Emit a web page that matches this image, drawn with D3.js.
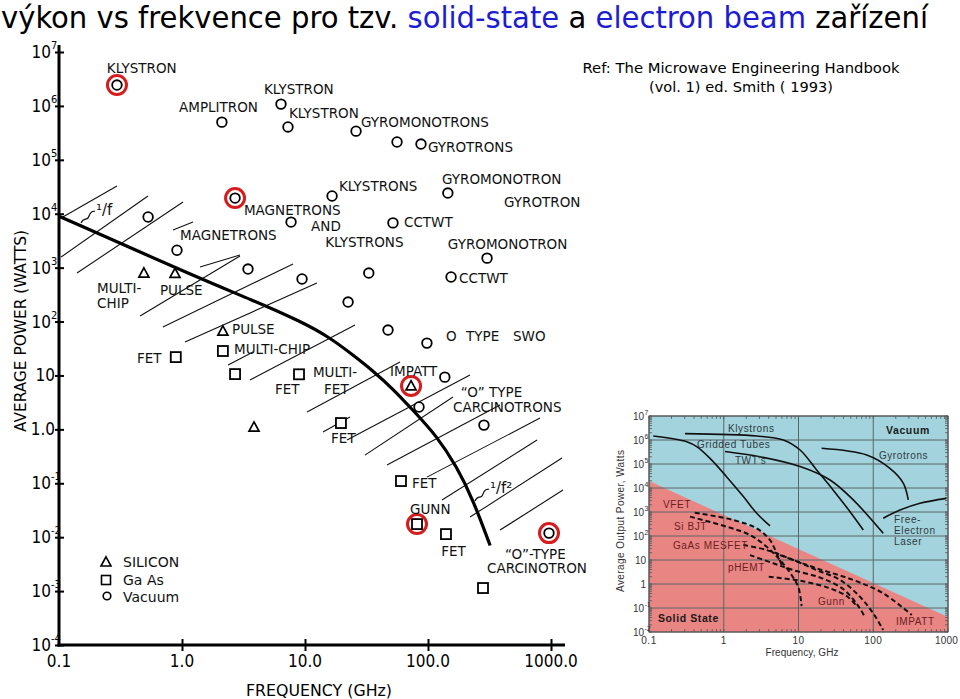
<!DOCTYPE html>
<html><head><meta charset="utf-8">
<script src="https://cdn.jsdelivr.net/npm/d3@7"></script>
<style>
body{margin:0;background:#fff;}
svg{display:block;}
</style></head><body>
<svg id="c" width="960" height="699"></svg>
<script>
// ================= DATA =================
const titleSegments = ["výkon vs frekvence pro tzv. ", "solid-state", " a ", "electron beam", " zařízení"];
const titleBlue = [false, true, false, true, false];
const refLines = ["Ref: The Microwave Engineering Handbook", "(vol. 1) ed. Smith ( 1993)"];

// main chart axes
const xTicks = [0.1, 1, 10, 100, 1000];
const xTickLabels = ["0.1", "1.0", "10.0", "100.0", "1000.0"];
const yTicks = [1e7, 1e6, 1e5, 1e4, 1e3, 1e2, 10, 1, 0.1, 0.01, 0.001, 0.0001];
const yTickBase = ["10", "10", "10", "10", "10", "10", "10", "1.0", "10", "10", "10", "10"];
const yTickExp = ["7", "6", "5", "4", "3", "2", "", "", "-1", "-2", "-3", "-4"];
const xTitle = "FREQUENCY (GHz)";
const yTitle = "AVERAGE  POWER (WATTS)";

// points [frequency GHz, power W]
const vacuumPts = [
  [0.296, 2.44e6], [2.11, 5.0e5], [6.38, 1.08e6], [7.27, 4.07e5], [26, 3.4e5], [56, 2.14e5], [87.7, 1.96e5],
  [16.6, 2.13e4], [145, 2.42e4], [2.7, 1.95e4], [7.7, 7.0e3], [51.9, 6.76e3], [302, 1.5e3], [154, 670], [33, 794],
  [0.53, 8.7e3], [0.91, 2.1e3], [3.44, 942], [9.46, 616], [22.4, 230], [47.3, 69.5], [98, 39.8], [137, 9.3],
  [84.5, 2.6], [285, 1.2], [963, 0.0119]
];
const siliconPts = [[0.49, 794], [0.877, 780], [2.15, 66.7], [3.85, 1.1], [72.8, 6.4]];
const gaasPts = [[0.89, 21.9], [2.15, 28.4], [2.7, 10.6], [8.94, 10.5], [19.6, 1.31], [60.3, 0.11],
  [81.4, 0.0175], [140, 0.0114], [280, 0.00114]];
const highlightedPts = [[0.296, 2.44e6], [2.7, 1.95e4], [72.8, 6.4], [81.4, 0.0175], [963, 0.0119]];

// 1/f -> 1/f^2 limit curve
const limitCurve = [[0.1, 9000], [1.48, 590], [3.57, 262], [9.5, 98], [16, 50], [24.5, 24], [36, 12],
  [52, 5.6], [75, 2.3], [118, 0.75], [172, 0.2], [232, 0.05], [320, 0.007]];

// hatch segments [f1, P1, f2, P2]
const hatchSegments = [
  [0.104, 8318, 0.296, 32660], [0.104, 1574, 0.529, 21300], [0.140, 794, 1.019, 16480],
  [0.456, 126.5, 2.96, 1641], [0.70, 79.1, 7.99, 1167], [1.058, 41.7, 12.5, 518],
  [2.37, 15.6, 3.78, 27.2], [3.57, 8.22, 25.5, 86.1], [10.4, 2.09, 59.2, 17.7],
  [14.0, 0.891, 23.2, 1.69], [21.95, 0.633, 219.5, 10.2], [30.7, 0.333, 159.7, 3.97],
  [46.4, 0.218, 385, 2.82], [98.1, 0.130, 814, 1.62], [130, 0.0488, 770, 0.633],
  [219.5, 0.0236, 1228, 0.294], [385, 0.01355, 1252, 0.0748], [0.845, 4989, 1.229, 7015],
  [1.40, 1026, 2.96, 1714]
];

// annotations (left/baseline anchor in data units)
const annotations = [
  {t: "KLYSTRON", f: 0.245, p: 4.07e6}, {t: "AMPLITRON", f: 0.946, p: 7.7e5},
  {t: "KLYSTRON", f: 4.64, p: 1.66e6}, {t: "KLYSTRON", f: 7.41, p: 5.96e5},
  {t: "GYROMONOTRONS", f: 28.5, p: 4.06e5}, {t: "GYROTRONS", f: 100, p: 1.4e5},
  {t: "KLYSTRONS", f: 18.9, p: 2.64e4}, {t: "GYROMONOTRON", f: 130, p: 3.56e4},
  {t: "GYROTRON", f: 415, p: 1.33e4}, {t: "MAGNETRONS", f: 3.19, p: 9.46e3},
  {t: "AND", f: 11.2, p: 4.78e3}, {t: "KLYSTRONS", f: 14.6, p: 2.41e3},
  {t: "CCTWT", f: 63.8, p: 5.66e3}, {t: "GYROMONOTRON", f: 145, p: 2.21e3},
  {t: "CCTWT", f: 179, p: 518}, {t: "MAGNETRONS", f: 0.964, p: 3.25e3},
  {t: "MULTI-", f: 0.204, p: 345}, {t: "CHIP", f: 0.204, p: 178},
  {t: "PULSE", f: 0.662, p: 310}, {t: "PULSE", f: 2.55, p: 58.6},
  {t: "MULTI-CHIP", f: 2.65, p: 24.9}, {t: "FET", f: 0.43, p: 17},
  {t: "FET", f: 5.7, p: 4.52}, {t: "MULTI-", f: 11.6, p: 9.33},
  {t: "FET", f: 14.3, p: 4.52}, {t: "IMPATT", f: 49.1, p: 9.75},
  {t: "FET", f: 16.3, p: 0.557}, {t: "O", f: 140, p: 43.5},
  {t: "TYPE", f: 204, p: 43.5}, {t: "SWO", f: 491, p: 43.5},
  {t: "\u201CO\u201D TYPE", f: 185, p: 3.97}, {t: "CARCINOTRONS", f: 160, p: 2.09},
  {t: "FET", f: 74.1, p: 0.0815}, {t: "GUNN", f: 71.4, p: 0.0268},
  {t: "FET", f: 128, p: 0.00446}, {t: "\u201CO\u201D-TYPE", f: 423, p: 0.00393},
  {t: "CARCINOTRON", f: 302, p: 0.00216}
];
const slopeLabels = [{t: "\u00B9/f", f: 0.2, p: 9460}, {t: "\u00B9/f\u00B2", f: 319, p: 0.0658}];
const legendItems = [{shape: "triangle", t: "SILICON"}, {shape: "square", t: "Ga As"}, {shape: "circle", t: "Vacuum"}];

// ---------- inset chart data ----------
const insetXTicks = [0.1, 1, 10, 100, 1000];
const insetXLabels = ["0.1", "1", "10", "100", "1000"];
const insetYTicks = [1e7, 1e6, 1e5, 1e4, 1e3, 1e2, 10, 1, 0.1, 0.01];
const insetYBase = ["10", "10", "10", "10", "10", "10", "10", "1", "10", "10"];
const insetYExp = ["7", "6", "5", "4", "3", "2", "", "", "-1", "-2"];
const solidStateLimit = [[0.1, 1.95e4], [1000, 0.042]];
const vacuumCurves = [
  [[0.114, 1.47e6], [0.32, 8.5e5], [0.435, 5.3e5], [0.655, 1.72e5], [1.09, 2.97e4], [1.83, 4.4e3], [2.76, 886], [4.16, 263]],
  [[0.303, 1.84e6], [2.76, 1.47e6], [6.27, 1.0e6], [10.5, 3.83e5], [17.5, 5.6e4], [29, 8.3e3], [48.9, 1.03e3], [73.6, 178]],
  [[1.04, 3.3e5], [3.05, 2.0e5], [10.5, 7.8e4], [26.4, 2.15e4], [54, 3.2e3], [136, 129]],
  [[20.4, 4.5e5], [81.7, 2.37e5], [167, 6.6e4], [252, 1.6e4], [294, 3.2e3]],
  [[136, 550], [228, 1.2e3], [422, 2.3e3], [955, 3.7e3]]
];
const solidCurves = [
  [[0.41, 930], [1.34, 464], [2.75, 209], [4.16, 68], [5.1, 19], [6.0, 6]],
  [[0.354, 640], [1.09, 245], [2.24, 110], [3.75, 36], [5.65, 10], [8, 2.5], [10, 0.7], [11, 0.12]],
  [[1.83, 42], [3.75, 26], [8.5, 10], [17.5, 3.8], [36, 1.47], [66, 0.3], [100, 0.06], [136, 0.012]],
  [[2.24, 16], [4.6, 7.3], [8.5, 3.8], [20, 1.8], [40, 0.6], [60, 0.15], [75, 0.05]],
  [[4, 2], [10, 1.4], [25, 0.7], [45, 0.3], [60, 0.12]],
  [[5.65, 16], [17.5, 4.5], [54, 1.47], [136, 0.41], [327, 0.051]]
];
const insetLabels = [
  {t: "Klystrons", f: 1.14, p: 2.15e6, k: "v"}, {t: "Gridded Tubes", f: 0.439, p: 4.64e5, k: "v"},
  {t: "TWT's", f: 1.41, p: 1e5, k: "v"}, {t: "Vacuum", f: 148, p: 1.78e6, k: "b"},
  {t: "Gyrotrons", f: 119, p: 1.62e5, k: "v"}, {t: "VFET", f: 0.154, p: 1468, k: "s"},
  {t: "Si BJT", f: 0.216, p: 178, k: "s"}, {t: "GaAs MESFET", f: 0.209, p: 28.7, k: "s"},
  {t: "pHEMT", f: 1.14, p: 3.48, k: "s"}, {t: "Gunn", f: 18.2, p: 0.133, k: "s"},
  {t: "IMPATT", f: 201, p: 0.0196, k: "s"}, {t: "Solid State", f: 0.132, p: 0.0261, k: "b"},
  {t: "Free-", f: 190, p: 348, k: "v"}, {t: "Electron", f: 190, p: 121, k: "v"}, {t: "Laser", f: 190, p: 42.2, k: "v"}
];
const insetXTitle = "Frequency, GHz";
const insetYTitle = "Average Output Power, Watts";

// ================= DRAW =================
const svg = d3.select("#c");
const narrow = "'Liberation Sans Narrow','DejaVu Sans Condensed','Arial Narrow',sans-serif";
const letter = "'DejaVu Sans',Verdana,sans-serif";

// title
const title = svg.append("text").attr("x", 1).attr("y", 28.5)
  .style("font-family", narrow).style("font-size", "31px");
titleSegments.forEach((s, i) => title.append("tspan").text(s).attr("fill", titleBlue[i] ? "#1c1cd2" : "#000"));
{
  const w = title.node().getBBox().width;
  const s = 929 / w;
  title.attr("transform", `translate(1,0) scale(${s},1) translate(-1,0)`);
}
// reference
refLines.forEach((t, i) => {
  svg.append("text").attr("x", 741).attr("y", 73 + i * 19).attr("text-anchor", "middle")
    .style("font-family", "Tahoma,'DejaVu Sans',sans-serif").style("font-size", "14.5px")
    .attr("textLength", i === 0 ? 317 : 184).attr("lengthAdjust", "spacingAndGlyphs").text(t);
});

// ---------- main chart ----------
const x = d3.scaleLog().domain([0.1, 1000]).range([59, 551]);
const y = d3.scaleLog().domain([1e-4, 1e7]).range([645, 52]);
const main = svg.append("g");

// hatching
main.append("g").selectAll("line").data(hatchSegments).join("line")
  .attr("x1", d => x(d[0])).attr("y1", d => y(d[1])).attr("x2", d => x(d[2])).attr("y2", d => y(d[3]))
  .attr("stroke", "#111").attr("stroke-width", 1.1);

// limit curve
main.append("path").datum(limitCurve)
  .attr("d", d3.line().x(d => x(d[0])).y(d => y(d[1])).curve(d3.curveBasis))
  .attr("fill", "none").attr("stroke", "#000").attr("stroke-width", 3.2);

// axes
const gy = main.append("g").attr("transform", `translate(${x(0.1)},0)`)
  .call(d3.axisLeft(y).tickValues(yTicks).tickSizeInner(5).tickSizeOuter(0).tickFormat(""));
gy.select(".domain").remove();
gy.selectAll(".tick line").attr("x1", 5).attr("x2", -4).attr("stroke", "#000").attr("stroke-width", 2);
const gx = main.append("g").attr("transform", `translate(0,${y(1e-4)})`)
  .call(d3.axisBottom(x).tickValues(xTicks.slice(1)).tickSizeInner(6).tickSizeOuter(0).tickFormat(""));
gx.select(".domain").remove();
gx.selectAll(".tick line").attr("y1", -6).attr("y2", 6).attr("stroke", "#000").attr("stroke-width", 2);
main.append("line").attr("x1", x(0.1)).attr("x2", x(0.1)).attr("y1", y(1e7) - 7).attr("y2", y(1e-4) + 1.5)
  .attr("stroke", "#000").attr("stroke-width", 3);
main.append("line").attr("x1", x(0.1) - 1.5).attr("x2", x(1000) + 14).attr("y1", y(1e-4)).attr("y2", y(1e-4))
  .attr("stroke", "#000").attr("stroke-width", 3);

// tick labels
yTicks.forEach((v, i) => {
  const hasExp = yTickExp[i] !== "";
  main.append("text").attr("x", hasExp ? x(0.1) - 8 : x(0.1) - 4).attr("y", y(v) + 6)
    .attr("text-anchor", "end").style("font-family", narrow).style("font-size", "17px").text(yTickBase[i]);
  if (hasExp) {
    main.append("text").attr("x", x(0.1) - 8).attr("y", y(v) - 3)
      .style("font-family", narrow).style("font-size", "11px").text(yTickExp[i]);
  }
});
xTicks.forEach((v, i) => {
  main.append("text").attr("x", x(v)).attr("y", 667).attr("text-anchor", "middle")
    .style("font-family", narrow).style("font-size", "17px").text(xTickLabels[i]);
});
main.append("text").attr("x", 319).attr("y", 696).attr("text-anchor", "middle")
  .style("font-family", letter).style("font-size", "15px")
  .attr("textLength", 146).attr("lengthAdjust", "spacingAndGlyphs").text(xTitle);
main.append("text").attr("transform", "translate(26,331) rotate(-90)").attr("text-anchor", "middle")
  .style("font-family", letter).style("font-size", "15px")
  .attr("textLength", 202).attr("lengthAdjust", "spacingAndGlyphs").text(yTitle);

// markers
const triPath = "M0,-5.2L5,4L-5,4Z";
const mk = main.append("g");
mk.selectAll("circle.v").data(vacuumPts).join("circle").attr("class", "v")
  .attr("cx", d => x(d[0])).attr("cy", d => y(d[1])).attr("r", 4.8)
  .attr("fill", "#fff").attr("stroke", "#000").attr("stroke-width", 1.8);
mk.selectAll("path.si").data(siliconPts).join("path").attr("class", "si")
  .attr("d", triPath).attr("transform", d => `translate(${x(d[0])},${y(d[1])})`)
  .attr("fill", "#fff").attr("stroke", "#000").attr("stroke-width", 1.7);
mk.selectAll("rect.ga").data(gaasPts).join("rect").attr("class", "ga")
  .attr("x", d => x(d[0]) - 5).attr("y", d => y(d[1]) - 5).attr("width", 10).attr("height", 10)
  .attr("fill", "#fff").attr("stroke", "#000").attr("stroke-width", 1.8);
mk.selectAll("circle.hl").data(highlightedPts).join("circle").attr("class", "hl")
  .attr("cx", d => x(d[0])).attr("cy", d => y(d[1])).attr("r", 9.5)
  .attr("fill", "none").attr("stroke", "#d61c1c").attr("stroke-width", 3);

// annotations
main.append("g").selectAll("text").data(annotations).join("text")
  .attr("x", d => x(d.f)).attr("y", d => y(d.p)).text(d => d.t)
  .style("font-family", letter).style("font-size", "13.5px").attr("fill", "#111");

// 1/f and 1/f^2 labels with tilde leaders
slopeLabels.forEach(s => {
  const px = x(s.f), py = y(s.p);
  main.append("text").attr("x", px).attr("y", py).style("font-family", letter).style("font-size", "15px")
    .attr("fill", "#111").text(s.t);
  main.append("path")
    .attr("d", `M${px - 15},${py + 8} C${px - 12},${py + 1} ${px - 9},${py + 7} ${px - 7},${py + 1} S${px - 3},${py - 3} ${px - 1},${py - 4}`)
    .attr("fill", "none").attr("stroke", "#111").attr("stroke-width", 1.2);
});

// legend
const lg = main.append("g");
legendItems.forEach((it, i) => {
  const cy = [562, 580, 597][i];
  if (it.shape === "triangle") lg.append("path").attr("d", triPath).attr("transform", `translate(106,${cy})`)
    .attr("fill", "none").attr("stroke", "#000").attr("stroke-width", 1.6);
  if (it.shape === "square") lg.append("rect").attr("x", 101.5).attr("y", cy - 4.5).attr("width", 9).attr("height", 9)
    .attr("fill", "none").attr("stroke", "#000").attr("stroke-width", 1.6);
  if (it.shape === "circle") lg.append("circle").attr("cx", 107).attr("cy", cy - 1).attr("r", 3.8)
    .attr("fill", "none").attr("stroke", "#000").attr("stroke-width", 1.6);
  lg.append("text").attr("x", 123).attr("y", cy + 5).text(it.t)
    .style("font-family", letter).style("font-size", "14px").attr("fill", "#111");
});

// ---------- inset ----------
const xi = d3.scaleLog().domain([0.1, 1000]).range([649, 948]);
const yi = d3.scaleLog().domain([0.01, 1e7]).range([632, 416]);
const ins = svg.append("g");
const insFont = "'Liberation Sans',Arial,sans-serif";
ins.append("rect").attr("x", xi(0.1)).attr("y", yi(1e7)).attr("width", xi(1000) - xi(0.1)).attr("height", yi(0.01) - yi(1e7))
  .attr("fill", "#a3d3dd");
ins.append("path").datum([solidStateLimit[0], solidStateLimit[1], [1000, 0.01], [0.1, 0.01]])
  .attr("d", d3.line().x(d => xi(d[0])).y(d => yi(d[1])))
  .attr("fill", "#e98583");
// grid
ins.append("g").selectAll("line").data(insetYTicks).join("line")
  .attr("x1", xi(0.1)).attr("x2", xi(1000)).attr("y1", d => yi(d)).attr("y2", d => yi(d))
  .attr("stroke", "#5a6468").attr("stroke-width", 1);
ins.append("g").selectAll("line").data(insetXTicks).join("line")
  .attr("y1", yi(1e7)).attr("y2", yi(0.01)).attr("x1", d => xi(d)).attr("x2", d => xi(d))
  .attr("stroke", "#5a6468").attr("stroke-width", 1);
// minor ticks
const minorX = xi.ticks();
const minorY = yi.ticks(100);
ins.append("g").selectAll("line").data(minorX).join("line")
  .attr("x1", d => xi(d)).attr("x2", d => xi(d)).attr("y1", yi(1e7)).attr("y2", yi(1e7) + 3)
  .attr("stroke", "#555").attr("stroke-width", 0.8);
ins.append("g").selectAll("line").data(minorX).join("line")
  .attr("x1", d => xi(d)).attr("x2", d => xi(d)).attr("y1", yi(0.01)).attr("y2", yi(0.01) - 3)
  .attr("stroke", "#555").attr("stroke-width", 0.8);
ins.append("g").selectAll("line").data(minorY).join("line")
  .attr("x1", xi(0.1)).attr("x2", xi(0.1) + 3).attr("y1", d => yi(d)).attr("y2", d => yi(d))
  .attr("stroke", "#555").attr("stroke-width", 0.8);
ins.append("g").selectAll("line").data(minorY).join("line")
  .attr("x1", xi(1000)).attr("x2", xi(1000) - 3).attr("y1", d => yi(d)).attr("y2", d => yi(d))
  .attr("stroke", "#555").attr("stroke-width", 0.8);
ins.append("rect").attr("x", xi(0.1)).attr("y", yi(1e7)).attr("width", xi(1000) - xi(0.1)).attr("height", yi(0.01) - yi(1e7))
  .attr("fill", "none").attr("stroke", "#555").attr("stroke-width", 1);

const lineI = d3.line().x(d => xi(d[0])).y(d => yi(d[1])).curve(d3.curveCatmullRom.alpha(0.5));
ins.append("g").selectAll("path").data(vacuumCurves).join("path").attr("d", lineI)
  .attr("fill", "none").attr("stroke", "#111").attr("stroke-width", 1.6);
ins.append("g").selectAll("path").data(solidCurves).join("path").attr("d", lineI)
  .attr("fill", "none").attr("stroke", "#111").attr("stroke-width", 2).attr("stroke-dasharray", "5,3");

ins.append("g").selectAll("text").data(insetLabels).join("text")
  .attr("x", d => xi(d.f)).attr("y", d => yi(d.p)).text(d => d.t)
  .style("font-family", insFont).style("font-size", d => d.k === "b" ? "10.5px" : "10px")
  .style("font-weight", d => d.k === "b" ? "bold" : "normal")
  .style("letter-spacing", "0.6px")
  .attr("fill", d => d.k === "s" ? "#6b1f1f" : (d.k === "b" ? "#1a1a1a" : "#2e3a3e"));

insetYTicks.forEach((v, i) => {
  const hasExp = insetYExp[i] !== "";
  ins.append("text").attr("x", hasExp ? 644 : 646).attr("y", yi(v) + 4).attr("text-anchor", "end")
    .style("font-family", insFont).style("font-size", "10px").attr("fill", "#333").text(insetYBase[i]);
  if (hasExp) ins.append("text").attr("x", 644.5).attr("y", yi(v) - 1)
    .style("font-family", insFont).style("font-size", "7px").attr("fill", "#333").text(insetYExp[i]);
});
insetXTicks.forEach((v, i) => {
  const last = i === insetXTicks.length - 1;
  ins.append("text").attr("x", last ? 958 : xi(v)).attr("y", 644).attr("text-anchor", last ? "end" : "middle")
    .style("font-family", insFont).style("font-size", "10px").style("letter-spacing", last ? "0.2px" : "0.5px")
    .attr("fill", "#333").text(insetXLabels[i]);
});
ins.append("text").attr("x", 802).attr("y", 656).attr("text-anchor", "middle")
  .style("font-family", insFont).style("font-size", "10px").attr("fill", "#333")
  .attr("textLength", 73).attr("lengthAdjust", "spacing").text(insetXTitle);
ins.append("text").attr("transform", "translate(624,521) rotate(-90)").attr("text-anchor", "middle")
  .style("font-family", insFont).style("font-size", "10px").attr("fill", "#333")
  .attr("textLength", 142).attr("lengthAdjust", "spacing").text(insetYTitle);
</script>
</body></html>
